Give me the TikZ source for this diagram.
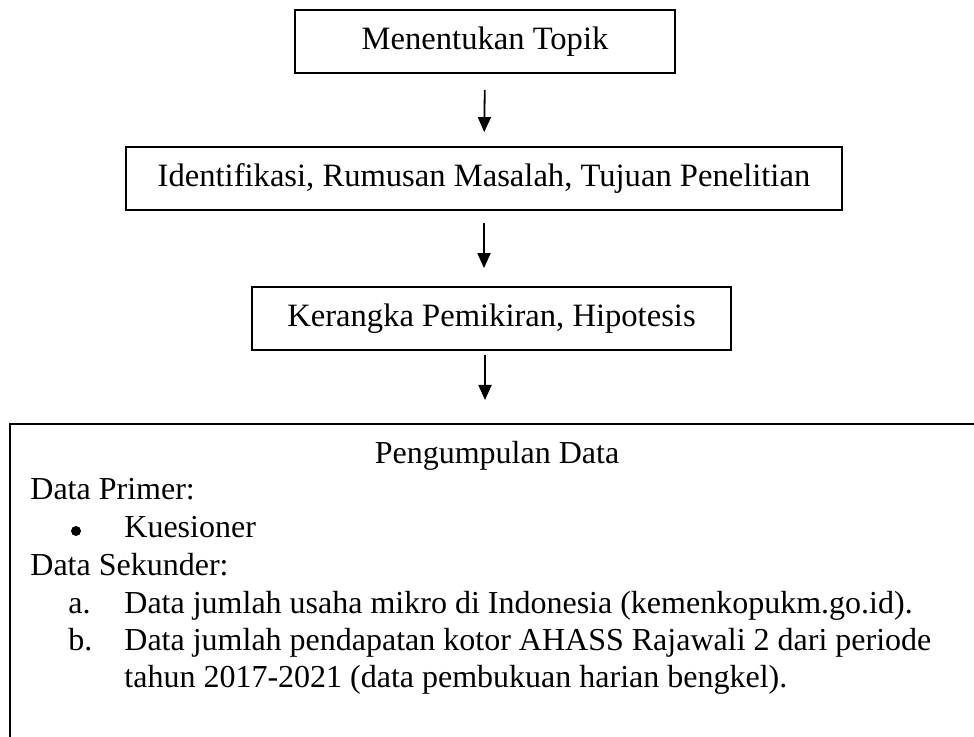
\documentclass[tikz,border=0pt]{standalone}
\usepackage{fontspec}
\setmainfont{Liberation Serif}
\usetikzlibrary{arrows.meta}
\begin{document}
\begin{tikzpicture}[x=0.5pt,y=-0.5pt,
  every node/.style={font=\fontsize{16}{19}\selectfont, inner sep=0pt},
  stepbox/.style={draw, line width=0.9pt, minimum height=31.5pt, font=\fontsize{16.3}{19}\selectfont},
  flow/.style={line width=0.9pt, -{Triangle[length=7.5pt,width=6.5pt]}},
  txt/.style={anchor=west, text height=11pt, text depth=3.5pt},
  dot/.style={circle, fill, minimum size=5pt}]
\useasboundingbox (0,0) rectangle (974,737);
\node[stepbox, minimum width=190pt] (topik) at (485,41.5) {Menentukan Topik};
\node[stepbox, minimum width=358pt] (ident) at (484,178.5) {Identifikasi, Rumusan Masalah, Tujuan Penelitian};
\node[stepbox, minimum width=239.5pt] (kerangka) at (491.5,318.5) {Kerangka Pemikiran, Hipotesis};
\begin{scope}
\clip (0,0) rectangle (974,737);
\node[draw, line width=0.9pt, anchor=north west, minimum width=500pt, minimum height=170pt] (data) at (9,423) {};
\end{scope}
\coordinate (a3s) at (485,353);
\draw[flow, shorten <=8pt, shorten >=7pt] (topik.south) -- (ident.north);
\draw[flow, shorten <=6pt, shorten >=9pt] (ident.south) -- (ident.south |- kerangka.north);
\draw[flow, shorten <=1pt, shorten >=11.5pt] (a3s) -- (a3s |- data.north);
\node[txt, anchor=center] (pd) at (497,456) {Pengumpulan Data};
\node[txt] (dp) at (30,492) {Data Primer:};
\node[dot] (bul) at (76,531) {};
\node[txt] (kue) at (124,530) {Kuesioner};
\node[txt] (ds) at (30,568) {Data Sekunder:};
\node[txt] (la) at (68,606) {a.};
\node[txt] (ta) at (124,606) {Data jumlah usaha mikro di Indonesia (kemenkopukm.go.id).};
\node[txt] (lb) at (68,643) {b.};
\node[txt] (tb) at (124,643) {Data jumlah pendapatan kotor AHASS Rajawali 2 dari periode};
\node[txt] (tb2) at (124,680) {tahun 2017-2021 (data pembukuan harian bengkel).};
\end{tikzpicture}
\end{document}
